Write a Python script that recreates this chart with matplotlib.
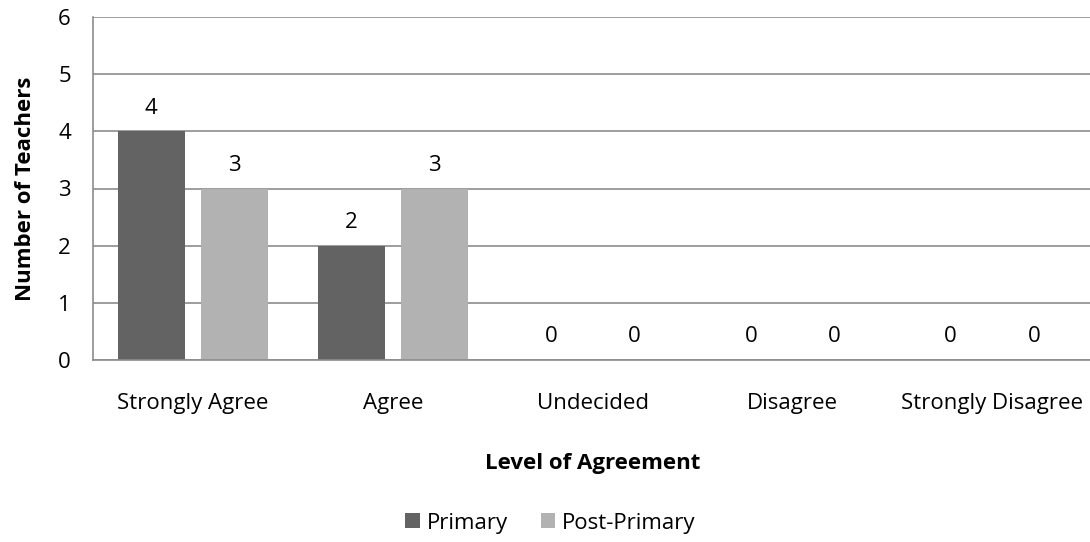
import matplotlib.pyplot as plt
import numpy as np
from matplotlib.patches import Patch

plt.rcParams['font.family'] = ['Open Sans', 'DejaVu Sans']

categories = ['Strongly Agree', 'Agree', 'Undecided', 'Disagree', 'Strongly Disagree']
primary = [4, 2, 0, 0, 0]
post_primary = [3, 3, 0, 0, 0]
series_names = ['Primary', 'Post-Primary']
colors = ['#636363', '#b2b2b2']

fs = 16

fig = plt.figure(figsize=(10.9, 5.42), dpi=100)
ax = fig.add_axes([93 / 1090, 1 - 360 / 542, 1 - 93 / 1090 + 0.002, (360 - 17) / 542])

x = np.arange(len(categories))
width = 0.336
offset = 0.208

for vals, off, col in zip([primary, post_primary], [-offset, offset], colors):
    ax.bar(x + off, vals, width, color=col, zorder=2)
    for xi, v in zip(x + off, vals):
        ax.annotate(str(v), (xi, v), xytext=(0, 9), textcoords='offset points',
                    ha='center', va='bottom', fontsize=fs, color='black')

ax.set_xlim(-0.5, len(categories) - 0.5)
ax.set_ylim(0, 6)
ax.set_yticks(range(0, 7))
ax.set_xticks(x)
ax.set_xticklabels(categories)
ax.tick_params(axis='both', length=0, labelsize=fs, colors='black')
ax.tick_params(axis='y', pad=16)
ax.tick_params(axis='x', pad=24)
ax.grid(axis='y', color='#8c8c8c', linewidth=1.2, zorder=0)
ax.set_axisbelow(True)
for side in ['top', 'right']:
    ax.spines[side].set_visible(False)
for side in ['left', 'bottom']:
    ax.spines[side].set_color('#8c8c8c')
    ax.spines[side].set_linewidth(1.2)

ax.set_xlabel('Level of Agreement', fontsize=fs, fontweight='bold', labelpad=28)
ax.set_ylabel('Number of Teachers', fontsize=fs, fontweight='bold', labelpad=16)

handles = [Patch(facecolor=c) for c in colors]
fig.legend(handles, series_names, loc='center', bbox_to_anchor=(0.505, 1 - 523 / 542),
           ncol=2, frameon=False, fontsize=fs, handlelength=0.65, handleheight=0.65,
           handletextpad=0.3, columnspacing=1.5)

fig.savefig('out.png', dpi=100)
